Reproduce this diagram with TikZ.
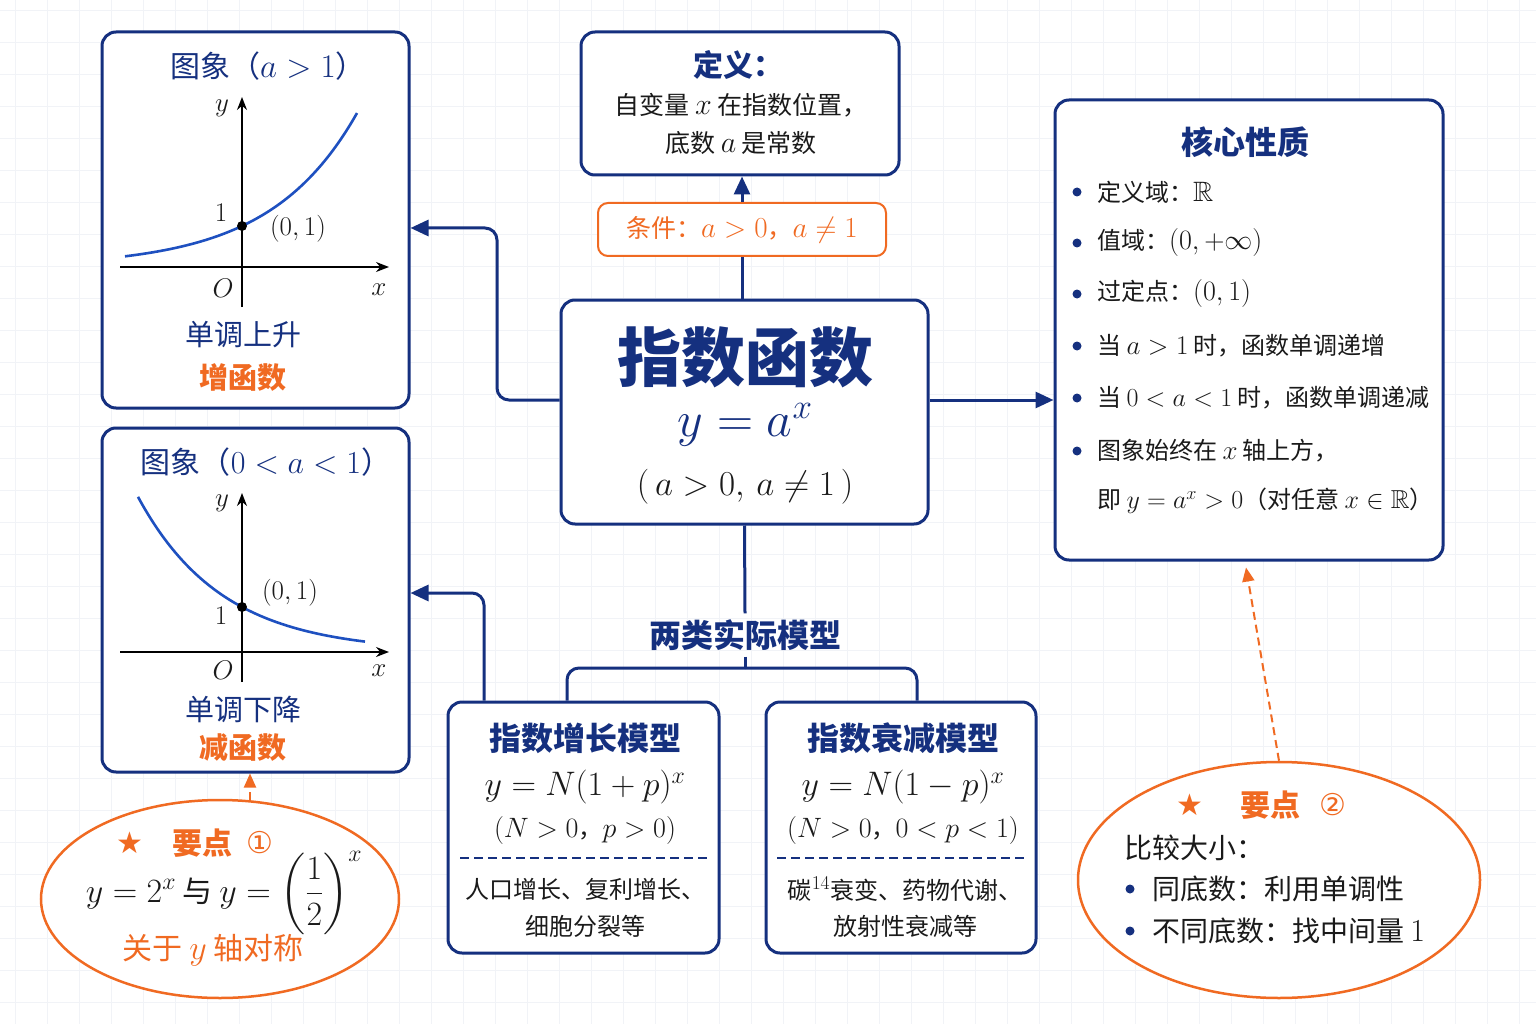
\RequirePackage{fix-cm}
\documentclass[tikz,border=0pt]{standalone}
\usepackage{amsmath,amssymb}
\usepackage{fontspec}
\setmainfont{Noto Sans CJK SC}
\newfontfamily\symf{DejaVu Sans}
\usetikzlibrary{arrows.meta,shapes.geometric,calc}
\definecolor{navy}{HTML}{15307F}
\definecolor{org}{HTML}{F06A22}
\definecolor{ink}{HTML}{1A1A1A}
\definecolor{cblue}{HTML}{1E50C0}
\definecolor{gridc}{HTML}{F1F3F7}
\newcommand{\fs}[1]{\fontsize{#1}{#1}\selectfont}
\newcommand{\mth}[2]{{\fontsize{#1}{#1}\selectfont$#2$}}
\begin{document}
\begin{tikzpicture}[x=1pt,y=-1pt,
  box/.style={draw=navy, line width=3pt, rounded corners=14pt, fill=white, inner sep=0pt},
  obox/.style={draw=org, line width=2pt, rounded corners=10pt, fill=white, inner sep=0pt},
  conn/.style={draw=navy, line width=3pt, -{Triangle[length=18pt,width=16pt]}},
  link/.style={draw=navy, line width=3pt},
  darr/.style={draw=org, line width=2pt, dash pattern=on 8pt off 5pt, -{Triangle[length=14pt,width=12pt]}},
  oell/.style={ellipse, draw=org, line width=2.5pt, fill=white, inner sep=0pt},
  txt/.style={inner sep=0pt, text=ink},
  axisl/.style={draw=black, line width=1.6pt, -{Stealth[length=13pt,width=10pt]}},
  curve/.style={draw=cblue, line width=2.6pt},
  sep/.style={draw=navy, line width=1.8pt, dash pattern=on 9pt off 5pt}
]
\useasboundingbox (0,0) rectangle (1536,1024);
\fill[white] (0,0) rectangle (1536,1024);
\draw[gridc, line width=0.8pt, xshift=15pt, yshift=-10pt, step=32pt] (-15,-10) grid (1536,1040);

% ---------- boxes ----------
\node[box, minimum width=307pt, minimum height=376pt] (A) at (255.5,220) {};
\node[box, minimum width=307pt, minimum height=344pt] (B) at (255.5,600) {};
\node[box, minimum width=318pt, minimum height=143pt] (Def) at (740,103.5) {};
\node[obox, minimum width=288pt, minimum height=53pt] (Cond) at (742,229.5) {};
\node[box, minimum width=367pt, minimum height=224pt] (C) at (744.5,412) {};
\node[box, minimum width=388pt, minimum height=460pt] (K) at (1249,330) {};
\node[box, minimum width=271pt, minimum height=251pt] (G) at (583.5,827.5) {};
\node[box, minimum width=270pt, minimum height=251pt] (D) at (901,827.5) {};
\node[oell, minimum width=358pt, minimum height=198pt] (E1) at (220,899) {};
\node[oell, minimum width=402pt, minimum height=236pt] (E2) at (1279,880) {};
\node[txt, text=navy, font=\fs{32}\bfseries, inner sep=6pt] (M) at (745,635) {两类实际模型};

% ---------- helper coordinates ----------
\coordinate (mid) at (0,400);
\coordinate (xl) at (497,0);
\coordinate (ya) at (0,228);
\coordinate (gb) at (484,0);
\coordinate (yb) at (0,593);
\coordinate (split) at (745,668);
\coordinate (gx) at (567,0);
\coordinate (dx) at (917,0);
\coordinate (p1) at (250,800);
\coordinate (cx) at (742,0);

% ---------- connectors ----------
\draw[link] (C.north -| cx) -- (Cond.south -| cx);
\draw[conn] (Cond.north -| cx) -- (Def.south -| cx);
\draw[conn, rounded corners=12pt] (C.west |- mid) -- (xl |- mid) |- (A.east |- ya);
\draw[conn] (C.east |- mid) -- (K.west |- mid);
\draw[link] (C.south) -- (M.north);
\draw[link] (M.south) -- (split);
\draw[link, rounded corners=12pt] (split) -| (G.north -| gx);
\draw[link, rounded corners=12pt] (split) -| (D.north -| dx);
\draw[conn, rounded corners=12pt] (G.north -| gb) |- (B.east |- yb);
\draw[darr] (p1) -- (B.south -| p1);
\draw[darr] (E2.north) -- ($(K.south)+(-3,6)$);

% ---------- graph a>1 ----------
\node[txt, text=navy, font=\fs{30}] (At) at (268,66) {图象（\mth{33}{a>1}）};
\draw[axisl] (120,267) -- (389,267);
\draw[axisl] (242,307) -- (242,97);
\draw[curve] plot[domain=125:357, samples=80, smooth] (\x, {267-41*exp(0.0115*(\x-242))});
\fill[black] (242,226) circle (5);
\node[txt, font=\fs{27}] at (222,108) {$y$};
\node[txt, font=\fs{27}] at (221,213) {$1$};
\node[txt, font=\fs{27}] at (298,229) {$(0,1)$};
\node[txt, font=\fs{27}] at (223,288) {$O$};
\node[txt, font=\fs{27}] at (379,290) {$x$};
\node[txt, text=navy, font=\fs{29}] at (243,335) {单调上升};
\node[txt, text=org, font=\fs{29}\bfseries] at (243,378) {增函数};

% ---------- graph 0<a<1 ----------
\node[txt, text=navy, font=\fs{30}] (Bt) at (266,462) {图象（\mth{32}{0<a<1}）};
\draw[axisl] (120,652) -- (389,652);
\draw[axisl] (242,682) -- (242,493);
\draw[curve] plot[domain=138:365, samples=80, smooth] (\x, {652-45*exp(-0.0119*(\x-242))});
\fill[black] (242,607) circle (5);
\node[txt, font=\fs{27}] at (222,503) {$y$};
\node[txt, font=\fs{27}] at (290,593) {$(0,1)$};
\node[txt, font=\fs{27}] at (221,616) {$1$};
\node[txt, font=\fs{27}] at (223,670) {$O$};
\node[txt, font=\fs{27}] at (379,671) {$x$};
\node[txt, text=navy, font=\fs{29}] at (243,709) {单调下降};
\node[txt, text=org, font=\fs{29}\bfseries] at (243,748) {减函数};

% ---------- definition ----------
\node[txt, text=navy, font=\fs{30}\bfseries] at (738,65) {定义：};
\node[txt, font=\fs{25}] at (741,105) {自变量 \mth{30}{x} 在指数位置，};
\node[txt, font=\fs{25}] at (741,143) {底数 \mth{30}{a} 是常数};
\node[txt, text=org, font=\fs{25}] at (742,230) {条件：\mth{29}{a>0}，\mth{29}{a\neq 1}};

% ---------- center ----------
\node[txt, text=navy, font=\fs{64}\bfseries] at (745,357) {指数函数};
\node[txt, text=navy, font=\fs{50}] at (745,425) {$y=a^{x}$};
\node[txt, font=\fs{35}] at (745,487) {$(\,a>0,\,a\neq 1\,)$};

% ---------- core properties ----------
\node[txt, text=navy, font=\fs{32}\bfseries] at (1245,142) {核心性质};
\foreach \yy in {192,243,294,346,398,451} \fill[navy] (1077,\yy) circle (4.5);
\node[txt, anchor=west, font=\fs{24}] at (1097,192) {定义域：\mth{28}{\mathbb{R}}};
\node[txt, anchor=west, font=\fs{24}] at (1097,243) {值域：\mth{28}{(0,+\infty)}};
\node[txt, anchor=west, font=\fs{24}] at (1097,294) {过定点：\mth{28}{(0,1)}};
\node[txt, anchor=west, font=\fs{24}] at (1097,346) {当 \mth{27}{a>1} 时，函数单调递增};
\node[txt, anchor=west, font=\fs{24}] at (1097,398) {当 \mth{26}{0<a<1} 时，函数单调递减};
\node[txt, anchor=west, font=\fs{24}] at (1097,451) {图象始终在 \mth{27}{x} 轴上方，};
\node[txt, anchor=west, font=\fs{24}] at (1097,501) {即 \mth{26}{y=a^{x}>0}（对任意 \mth{26}{x\in\mathbb{R}}）};

% ---------- growth model ----------
\node[txt, text=navy, font=\fs{32}\bfseries] at (585,738) {指数增长模型};
\node[txt, font=\fs{34}] at (585,787) {$y=N(1+p)^{x}$};
\node[txt, font=\fs{24}] at (585,830) {\mth{28}{(N>0}，\mth{28}{p>0)}};
\draw[sep] (460,858) -- (708,858);
\node[txt, font=\fs{24}] at (585,889) {人口增长、复利增长、};
\node[txt, font=\fs{24}] at (585,926) {细胞分裂等};

% ---------- decay model ----------
\node[txt, text=navy, font=\fs{32}\bfseries] at (903,738) {指数衰减模型};
\node[txt, font=\fs{34}] at (903,787) {$y=N(1-p)^{x}$};
\node[txt, font=\fs{24}] at (903,830) {\mth{28}{(N>0}，\mth{28}{0<p<1)}};
\draw[sep] (777,858) -- (1025,858);
\node[txt, font=\fs{24}] at (905,889) {碳\mth{28}{^{14}}衰变、药物代谢、};
\node[txt, font=\fs{24}] at (905,926) {放射性衰减等};

% ---------- key point 1 ----------
\node[txt, text=org, font=\fs{30}] at (130,843) {\symf ★};
\node[txt, text=org, font=\fs{30}\bfseries] at (202,843) {要点};
\node[txt, text=org, font=\fs{30}] at (260,843) {\symf ①};
\node[txt, font=\fs{30}] at (224,893) {\mth{34}{y=2^{x}} 与 \mth{34}{y=\left(\dfrac{1}{2}\right)^{x}}};
\node[txt, text=org, font=\fs{30}] at (213,950) {关于 \mth{34}{y} 轴对称};

% ---------- key point 2 ----------
\node[txt, text=org, font=\fs{30}] at (1190,805) {\symf ★};
\node[txt, text=org, font=\fs{30}\bfseries] at (1270,805) {要点};
\node[txt, text=org, font=\fs{30}] at (1333,805) {\symf ②};
\node[txt, anchor=west, font=\fs{28}] at (1124,848) {比较大小：};
\fill[navy] (1130,889) circle (4.5);
\fill[navy] (1130,931) circle (4.5);
\node[txt, anchor=west, font=\fs{28}] at (1152,889) {同底数：利用单调性};
\node[txt, anchor=west, font=\fs{28}] at (1152,931) {不同底数：找中间量 \mth{32}{1}};
\end{tikzpicture}
\end{document}
